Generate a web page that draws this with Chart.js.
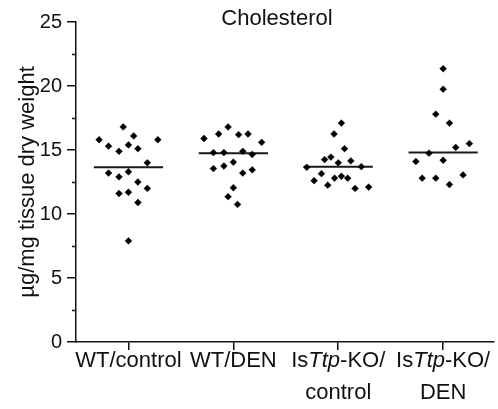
<!DOCTYPE html>
<html>
<head>
<meta charset="utf-8">
<script src="https://cdn.jsdelivr.net/npm/chart.js@4"></script>
<style>
  body { margin: 0; background: #fff; }
  #wrap { width: 498px; height: 409px; }
</style>
</head>
<body>
<div id="wrap"><canvas id="cholChart" width="498" height="409"></canvas></div>
<script>
// Group labels, *...* marks italic gene name, \n splits lines
const groups = ['WT/control', 'WT/DEN', 'Is*Ttp*-KO/\ncontrol', 'Is*Ttp*-KO/\nDEN'];
const yTicks = [0, 5, 10, 15, 20, 25];

// values, with horizontal jitter in category units
const wtControlY = [16.8, 16.1, 15.8, 15.8, 15.3, 15.4, 15.1, 14.9, 14.0, 13.2, 12.9, 13.3, 12.5, 12.0, 11.6, 11.7, 10.9, 7.9];
const wtControlJ = [-0.05, 0.05, -0.28, 0.28, -0.19, 0, 0.09, -0.09, 0.18, -0.19, -0.09, 0, 0.09, 0.18, -0.09, 0, 0.09, 0];
const wtDenY = [15.9, 16.25, 16.8, 16.2, 16.25, 15.6, 14.8, 14.8, 14.9, 14.65, 13.55, 13.75, 14.05, 13.2, 13.45, 12.05, 11.35, 10.75];
const wtDenJ = [-0.28, -0.14, -0.05, 0.05, 0.14, 0.27, -0.19, -0.09, 0.09, 0.18, -0.19, -0.09, 0, 0.09, 0.18, 0, -0.05, 0.04];
const koControlY = [17.1, 16.25, 15.1, 14.25, 14.45, 14.0, 14.15, 13.65, 13.7, 13.15, 12.6, 12.25, 12.8, 12.95, 12.8, 12.0, 12.1];
const koControlJ = [0.03, -0.04, 0.06, -0.13, -0.07, 0, 0.12, -0.3, 0.22, -0.16, -0.23, -0.1, -0.035, 0.03, 0.09, 0.16, 0.29];
const koDenY = [21.35, 19.75, 17.8, 17.1, 15.2, 15.5, 14.75, 14.1, 14.2, 12.8, 12.8, 13.05, 12.3];
const koDenJ = [0, 0, -0.07, 0.06, 0.12, 0.25, -0.135, -0.26, 0, -0.2, -0.07, 0.19, 0.06];
const medians = [13.65, 14.75, 13.7, 14.8];

const groupY = [wtControlY, wtDenY, koControlY, koDenY];
const groupJ = [wtControlJ, wtDenJ, koControlJ, koDenJ];

const FONT = "'Liberation Sans', Arial, sans-serif";
const INK = '#111';

const points = [];
groupY.forEach((ys, g) => {
  ys.forEach((v, k) => points.push({ x: g + groupJ[g][k], y: v }));
});

const medianLine = [];
medians.forEach((m, g) => {
  medianLine.push({ x: g - 0.33, y: m }, { x: g + 0.33, y: m }, { x: g + 0.5, y: null });
});

// title, minor y ticks and mixed-style x labels
const extras = {
  id: 'extras',
  afterDraw(chart) {
    const ctx = chart.ctx;
    const ys = chart.scales.y, xs = chart.scales.x;
    const area = chart.chartArea;
    ctx.save();
    // minor ticks halfway between majors
    ctx.strokeStyle = INK;
    ctx.lineWidth = 1.5;
    for (let i = 0; i < yTicks.length - 1; i++) {
      const py = Math.round(ys.getPixelForValue((yTicks[i] + yTicks[i + 1]) / 2)) + 0.5;
      ctx.beginPath();
      ctx.moveTo(area.left - 4, py);
      ctx.lineTo(area.left, py);
      ctx.stroke();
    }
    // title
    ctx.fillStyle = INK;
    ctx.font = '22px ' + FONT;
    ctx.textAlign = 'center';
    ctx.textBaseline = 'middle';
    ctx.fillText('Cholesterol', 277, 19);
    // x labels
    ctx.textBaseline = 'alphabetic';
    groups.forEach((lab, i) => {
      const cx = xs.getPixelForValue(i);
      lab.split('\n').forEach((line, li) => {
        const parts = line.split('*');
        const fonts = parts.map((p, k) => (k % 2 ? 'italic ' : '') + '22px ' + FONT);
        let w = 0;
        parts.forEach((p, k) => { ctx.font = fonts[k]; w += ctx.measureText(p).width; });
        let px = cx - w / 2;
        ctx.textAlign = 'left';
        parts.forEach((p, k) => {
          ctx.font = fonts[k];
          ctx.fillText(p, px, area.bottom + 25 + li * 32);
          px += ctx.measureText(p).width;
        });
      });
    });
    ctx.restore();
  }
};

new Chart(document.getElementById('cholChart'), {
  type: 'scatter',
  data: {
    datasets: [
      {
        label: 'Cholesterol',
        data: points,
        pointStyle: 'rectRot',
        pointRadius: 3.4,
        pointBackgroundColor: '#000',
        pointBorderColor: '#000',
        pointBorderWidth: 0.5
      },
      {
        label: 'Median',
        type: 'line',
        data: medianLine,
        borderColor: '#1a1a1a',
        borderWidth: 2,
        pointRadius: 0,
        spanGaps: false
      }
    ]
  },
  options: {
    responsive: false,
    animation: false,
    layout: { padding: { top: 22, right: 0, bottom: 0, left: 0 } },
    plugins: { legend: { display: false }, tooltip: { enabled: false }, title: { display: false } },
    scales: {
      x: {
        type: 'linear',
        min: -0.5,
        max: 3.48,
        afterBuildTicks: s => { s.ticks = groups.map((g, i) => ({ value: i })); },
        afterFit: s => { s.height = 67; },
        ticks: { display: false },
        grid: { drawOnChartArea: false, drawTicks: true, tickLength: 8, color: INK, lineWidth: 1.5 },
        border: { display: true, color: INK, width: 1.5 }
      },
      y: {
        min: 0,
        max: 25,
        afterBuildTicks: s => { s.ticks = yTicks.map(v => ({ value: v })); },
        afterFit: s => { s.width = 76; },
        ticks: { color: INK, font: { family: FONT, size: 20 }, padding: 5 },
        grid: { drawOnChartArea: false, drawTicks: true, tickLength: 9, color: INK, lineWidth: 1.5 },
        border: { display: true, color: INK, width: 1.5 },
        title: {
          display: true,
          text: 'µg/mg tissue dry weight',
          color: INK,
          font: { family: FONT, size: 22 },
          padding: { top: 15, bottom: 0 }
        }
      }
    }
  },
  plugins: [extras]
});
</script>
</body>
</html>
